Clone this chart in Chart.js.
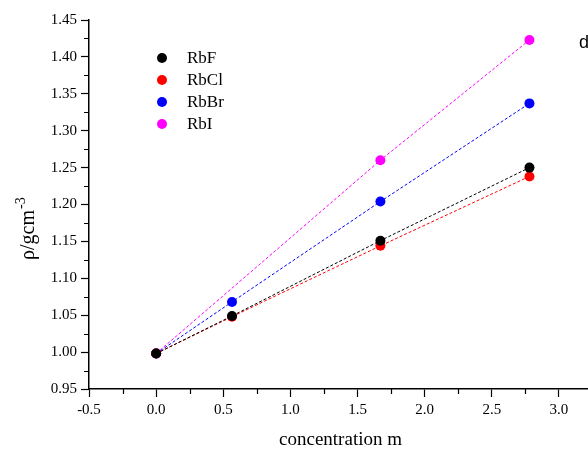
<!DOCTYPE html>
<html>
<head>
<meta charset="utf-8">
<script src="https://cdn.jsdelivr.net/npm/chart.js@4/dist/chart.umd.min.js"></script>
<style>
html,body{margin:0;padding:0;background:#fff;}
#wrap{width:588px;height:450px;position:relative;}
</style>
</head>
<body>
<div id="wrap"><canvas id="c" width="588" height="450"></canvas></div>
<script>
// ---- data ----
const seriesNames = ['RbF', 'RbCl', 'RbBr', 'RbI'];
const seriesColors = ['#000000', '#ff0000', '#0000ff', '#ff00ff'];
const concF = [0, 0.565, 1.67, 2.78];
const rhoF = [0.998, 1.049, 1.151, 1.250];
const concCl = [0, 0.565, 1.67, 2.78];
const rhoCl = [0.998, 1.048, 1.144, 1.238];
const concBr = [0, 0.565, 1.67, 2.78];
const rhoBr = [0.998, 1.068, 1.204, 1.337];
const concI = [0, 1.67, 2.78];
const rhoI = [0.998, 1.260, 1.423];
const xTickValues = [-0.5, 0, 0.5, 1.0, 1.5, 2.0, 2.5, 3.0];
const xTitle = 'concentration m';
const yTitleMain = 'ρ/gcm';
const yTitleSup = '-3';
const panelLabel = 'd';

const concs = [concF, concCl, concBr, concI];
const rhos = [rhoF, rhoCl, rhoBr, rhoI];

const datasets = seriesNames.map((name, i) => ({
  label: name,
  data: concs[i].map((x, j) => ({x: x, y: rhos[i][j]})),
  borderColor: seriesColors[i],
  backgroundColor: seriesColors[i],
  borderWidth: 1,
  borderDash: [3, 2],
  pointRadius: 5,
  pointHoverRadius: 5,
  pointBorderWidth: 0,
  showLine: true,
  tension: 0
}));

const serif = "'Liberation Serif', 'Times New Roman', serif";

const decorPlugin = {
  id: 'decor',
  afterDraw(chart) {
    const ctx = chart.ctx;
    const ca = chart.chartArea;
    const xs = chart.scales.x, ys = chart.scales.y;
    ctx.save();
    // minor ticks
    ctx.strokeStyle = '#000';
    ctx.lineWidth = 1.2;
    ctx.beginPath();
    for (let v = 0.975; v < 1.45; v += 0.05) {
      const py = Math.round(ys.getPixelForValue(v)) + 0.5;
      ctx.moveTo(ca.left, py); ctx.lineTo(ca.left - 5, py);
    }
    for (let v = -0.25; v < xs.max; v += 0.5) {
      const px = Math.round(xs.getPixelForValue(v)) + 0.5;
      ctx.moveTo(px, ca.bottom); ctx.lineTo(px, ca.bottom + 5);
    }
    ctx.stroke();

    // x title
    ctx.fillStyle = '#000';
    ctx.font = '19px ' + serif;
    ctx.textAlign = 'center';
    ctx.textBaseline = 'middle';
    ctx.fillText(xTitle, (ca.left + ca.right) / 2 + 2, 440);

    // y title
    ctx.save();
    ctx.translate(34, 260);
    ctx.rotate(-Math.PI / 2);
    ctx.textAlign = 'left';
    ctx.textBaseline = 'alphabetic';
    ctx.font = '20px ' + serif;
    ctx.fillText(yTitleMain, 0, 0);
    const w = ctx.measureText(yTitleMain).width;
    ctx.font = '14px ' + serif;
    ctx.fillText(yTitleSup, w + 1, -9);
    ctx.restore();

    // legend
    const rows = [58, 80, 102, 124];
    ctx.font = '17px ' + serif;
    ctx.textAlign = 'left';
    ctx.textBaseline = 'middle';
    seriesNames.forEach((name, i) => {
      ctx.fillStyle = seriesColors[i];
      ctx.beginPath();
      ctx.arc(162, rows[i], 5, 0, Math.PI * 2);
      ctx.fill();
      ctx.fillStyle = '#000';
      ctx.fillText(name, 187, rows[i] + 1);
    });

    // panel label
    ctx.font = "18px 'Liberation Sans', Arial, sans-serif";
    ctx.textBaseline = 'middle';
    ctx.fillText(panelLabel, 579, 43);
    ctx.restore();
  }
};

new Chart(document.getElementById('c'), {
  type: 'scatter',
  data: { datasets: datasets },
  options: {
    responsive: false,
    animation: false,
    devicePixelRatio: 1,
    layout: { autoPadding: false, padding: { top: 20, right: 0, left: 0, bottom: 0 } },
    plugins: { legend: { display: false }, tooltip: { enabled: false } },
    scales: {
      x: {
        type: 'linear',
        min: -0.5,
        max: 3.216,
        afterBuildTicks: (s) => { s.ticks = xTickValues.map(v => ({value: v})); },
        afterFit: (s) => { s.height = 61; s.paddingRight = 0; s.paddingLeft = 0; },
        grid: { display: true, drawOnChartArea: false, drawTicks: true, tickLength: 8, tickColor: '#000', tickWidth: 1.2 },
        border: { display: true, color: '#000', width: 1.5 },
        ticks: {
          color: '#000',
          font: { family: serif, size: 15 },
          padding: 4,
          maxRotation: 0,
          autoSkip: false,
          callback: (v) => Number(v).toFixed(1)
        }
      },
      y: {
        type: 'linear',
        min: 0.95,
        max: 1.45,
        afterBuildTicks: (s) => {
          const t = [];
          for (let i = 0; i <= 10; i++) t.push({value: +(0.95 + i * 0.05).toFixed(2)});
          s.ticks = t;
        },
        afterFit: (s) => { s.width = 89; s.paddingTop = 0; s.paddingBottom = 0; },
        grid: { display: true, drawOnChartArea: false, drawTicks: true, tickLength: 8, tickColor: '#000', tickWidth: 1.2 },
        border: { display: true, color: '#000', width: 1.5 },
        ticks: {
          color: '#000',
          font: { family: serif, size: 15 },
          padding: 4,
          autoSkip: false,
          callback: (v) => Number(v).toFixed(2)
        }
      }
    }
  },
  plugins: [decorPlugin]
});
</script>
</body>
</html>
